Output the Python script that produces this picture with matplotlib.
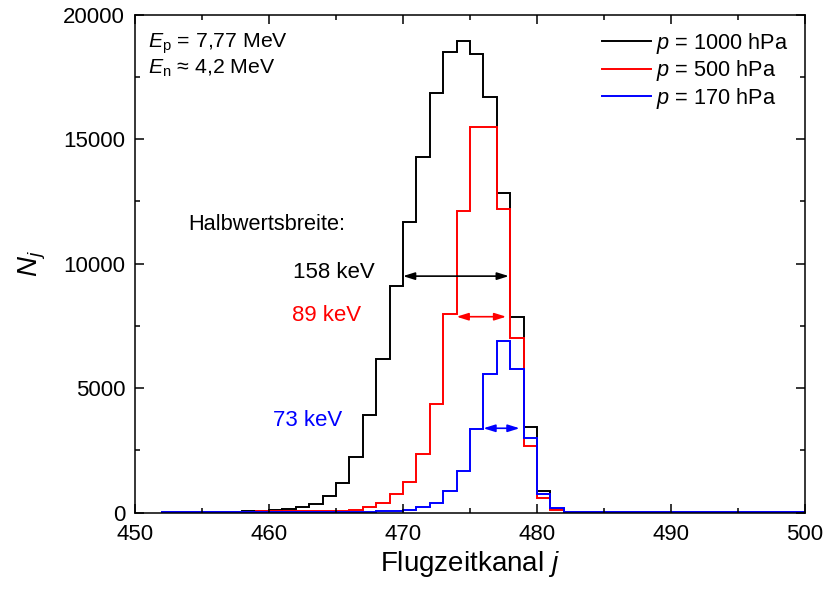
import numpy as np
import matplotlib

matplotlib.use("Agg")

import matplotlib.pyplot as plt
from matplotlib.ticker import MultipleLocator


plt.rcParams["font.family"] = ["Liberation Sans", "DejaVu Sans"]
plt.rcParams["mathtext.fontset"] = "custom"
plt.rcParams["mathtext.rm"] = "Liberation Sans"
plt.rcParams["mathtext.it"] = "Liberation Sans:italic"


# ---------------------------------------------------------------------------
# Data: counts per time-of-flight channel (bin j covers [j, j+1))
# ---------------------------------------------------------------------------

channels = np.arange(452, 500)

counts_1000 = [
    10, 15, 20, 25, 30, 40, 60, 75, 96, 137,
    217, 349, 683, 1205, 2249, 3924, 6160, 9100, 11660, 14285,
    16870, 18500, 18945, 18410, 16680, 12840, 7850, 3435, 875, 140,
    30, 20, 15, 15, 15, 15, 15, 15, 15, 15,
    15, 15, 15, 15, 15, 15, 15, 15,
]

counts_500 = [
    20, 25, 30, 35, 40, 40, 45, 50, 55, 60,
    65, 65, 70, 70, 108, 217, 378, 739, 1245, 2357,
    4365, 7976, 12116, 15500, 15490, 12185, 7028, 2685, 602, 96,
    30, 20, 20, 20, 20, 20, 20, 20, 20, 20,
    20, 20, 20, 20, 20, 20, 20, 20,
]

counts_170 = [
    10, 10, 10, 12, 12, 15, 15, 15, 20, 20,
    25, 25, 30, 30, 35, 40, 50, 60, 110, 217,
    378, 872, 1675, 3373, 5558, 6908, 5759, 2980, 751, 170,
    30, 15, 15, 15, 15, 15, 15, 15, 15, 15,
    15, 15, 15, 15, 15, 15, 15, 15,
]

series_labels = ["1000", "500", "170"]
series_colors = ["black", "red", "blue"]

# FWHM arrows: (start channel, end channel, height) and their labels
fwhm_arrows = [
    (470.0, 477.9, 9500),
    (474.0, 477.7, 7870),
    (476.0, 478.7, 3390),
]
fwhm_labels = ["158 keV", "89 keV", "73 keV"]
fwhm_label_pos = [(461.8, 9438), (461.7, 7699), (460.3, 3482)]


def main():
    fig = plt.figure(figsize=(8.26, 5.94), dpi=100)
    ax = fig.add_axes([0.1634, 0.1369, 0.8112, 0.8384])

    edges = np.append(channels, channels[-1] + 1)
    for counts, label, color in zip(
        [counts_1000, counts_500, counts_170], series_labels, series_colors
    ):
        ax.stairs(counts, edges, color=color, linewidth=1.4,
                  label=rf"$p$ = {label} hPa")

    for (x0, x1, y), color in zip(fwhm_arrows, series_colors):
        ax.annotate(
            "", xy=(x1, y), xytext=(x0, y),
            arrowprops=dict(arrowstyle="<|-|>,head_length=0.7,head_width=0.22",
                            color=color, lw=1.2, shrinkA=0, shrinkB=0),
        )

    for text, (x, y), color in zip(fwhm_labels, fwhm_label_pos, series_colors):
        ax.text(x, y, text, color=color, fontsize=16, va="baseline")

    ax.text(453.98, 11345, "Halbwertsbreite:", fontsize=15.7, va="baseline")
    ax.text(451.0, 18663, r"$E_\mathrm{p}$ = 7,77 MeV", fontsize=15.3,
            va="baseline")
    ax.text(451.0, 17620, r"$E_\mathrm{n}$ ≈ 4,2 MeV", fontsize=15.3,
            va="baseline")

    ax.set_xlim(450, 500)
    ax.set_ylim(0, 20000)
    ax.xaxis.set_major_locator(MultipleLocator(10))
    ax.xaxis.set_minor_locator(MultipleLocator(5))
    ax.yaxis.set_major_locator(MultipleLocator(5000))
    ax.yaxis.set_minor_locator(MultipleLocator(2500))
    ax.tick_params(which="both", direction="in", top=True, right=True,
                   width=1.1, labelsize=16)
    ax.tick_params(axis="x", which="major", length=6.5, pad=8)
    ax.tick_params(axis="y", which="major", length=6.5, pad=7)
    ax.tick_params(which="minor", length=3.6)
    for spine in ax.spines.values():
        spine.set_linewidth(1.1)

    ax.set_xlabel(r"Flugzeitkanal $j$", fontsize=20, labelpad=3)
    ax.set_ylabel(r"$N_j$", fontsize=20, labelpad=11)

    ax.legend(loc="upper left", bbox_to_anchor=(0.697, 0.968), frameon=False,
              fontsize=15.7, handlelength=2.25, handletextpad=0.22,
              labelspacing=0.12, borderpad=0, borderaxespad=0)

    fig.savefig("out.png", dpi=100)
    plt.close(fig)


if __name__ == "__main__":
    main()
